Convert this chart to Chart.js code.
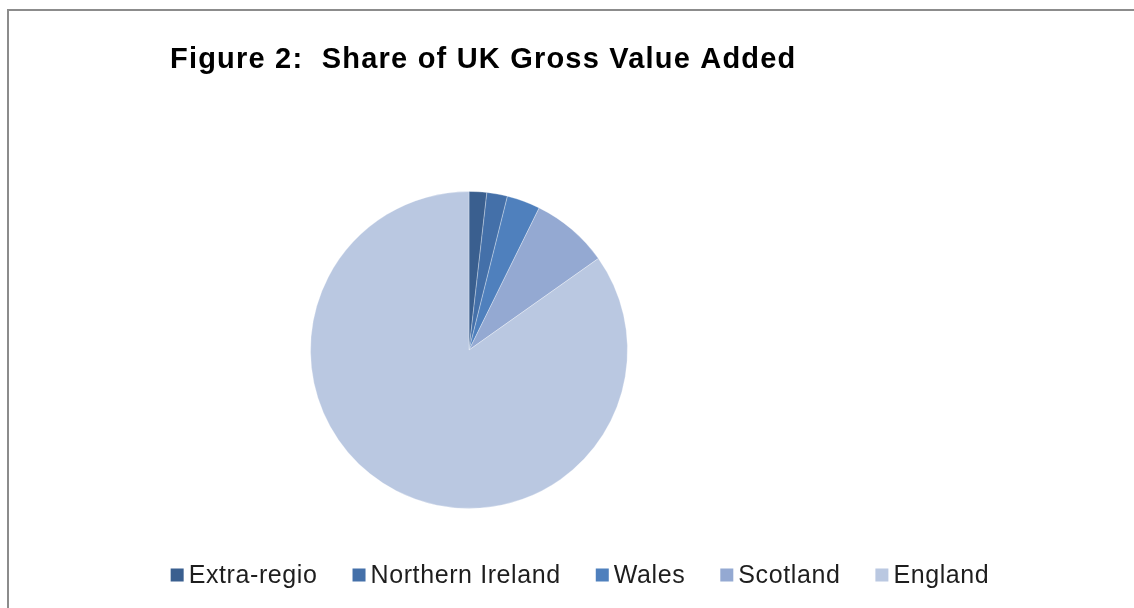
<!DOCTYPE html>
<html>
<head>
<meta charset="utf-8">
<script src="https://cdn.jsdelivr.net/npm/chart.js@4"></script>
<style>
  html, body { margin: 0; padding: 0; background: #fff; overflow: hidden; }
  #frame { position: absolute; left: 7px; top: 9px; width: 1200px; height: 700px;
           border-left: 2px solid #8c8c8c; border-top: 2px solid #8c8c8c; box-sizing: border-box; }
  #wrap { position: absolute; left: 0; top: 0; width: 1134px; height: 608px; }
</style>
</head>
<body>
<div id="frame"></div>
<div id="wrap"><canvas id="c"></canvas></div>
<script>
const categories = ["Extra-regio", "Northern Ireland", "Wales", "Scotland", "England"];
const shares = [1.8, 2.1, 3.4, 7.9, 84.8];
const colors = ["#3a5f8f", "#4470a9", "#4f80bd", "#94a9d2", "#bac8e1"];
const titleText = "Figure 2:  Share of UK Gross Value Added";

const titlePlugin = {
  id: 'customTitle',
  afterDraw(chart) {
    const ctx = chart.ctx;
    ctx.save();
    ctx.font = 'bold 29px "Liberation Sans", Arial, sans-serif';
    ctx.letterSpacing = '1.2px';
    ctx.fillStyle = '#000';
    ctx.textBaseline = 'alphabetic';
    ctx.fillText(titleText, 170, 68);
    ctx.restore();
  }
};

const legendPlugin = {
  id: 'customLegend',
  afterDraw(chart) {
    const ctx = chart.ctx;
    const labels = chart.data.labels;
    const bg = chart.data.datasets[0].backgroundColor;
    ctx.save();
    ctx.font = '25px "Liberation Sans", Arial, sans-serif';
    ctx.letterSpacing = '0.6px';
    ctx.textBaseline = 'middle';
    const box = 13, gap = 5, itemGap = 35;
    const widths = labels.map(l => ctx.measureText(l).width);
    const total = widths.reduce((a, w) => a + box + gap + w, 0) + itemGap * (labels.length - 1);
    let x = 580 - total / 2;
    const y = 575;
    labels.forEach((l, i) => {
      ctx.fillStyle = bg[i];
      ctx.fillRect(x, y - box / 2, box, box);
      ctx.fillStyle = '#1e1e1e';
      ctx.fillText(l, x + box + gap, y + 1);
      x += box + gap + widths[i] + itemGap;
    });
    ctx.restore();
  }
};

new Chart(document.getElementById('c'), {
  type: 'pie',
  data: {
    labels: categories,
    datasets: [{
      data: shares,
      backgroundColor: colors,
      borderColor: 'rgba(255,255,255,0.3)',
      borderWidth: 1
    }]
  },
  options: {
    responsive: true,
    maintainAspectRatio: false,
    animation: false,
    layout: { padding: { left: 170, right: 366, top: 191, bottom: 99 } },
    plugins: {
      legend: { display: false },
      tooltip: { enabled: false },
      title: { display: false }
    }
  },
  plugins: [titlePlugin, legendPlugin]
});
</script>
</body>
</html>
